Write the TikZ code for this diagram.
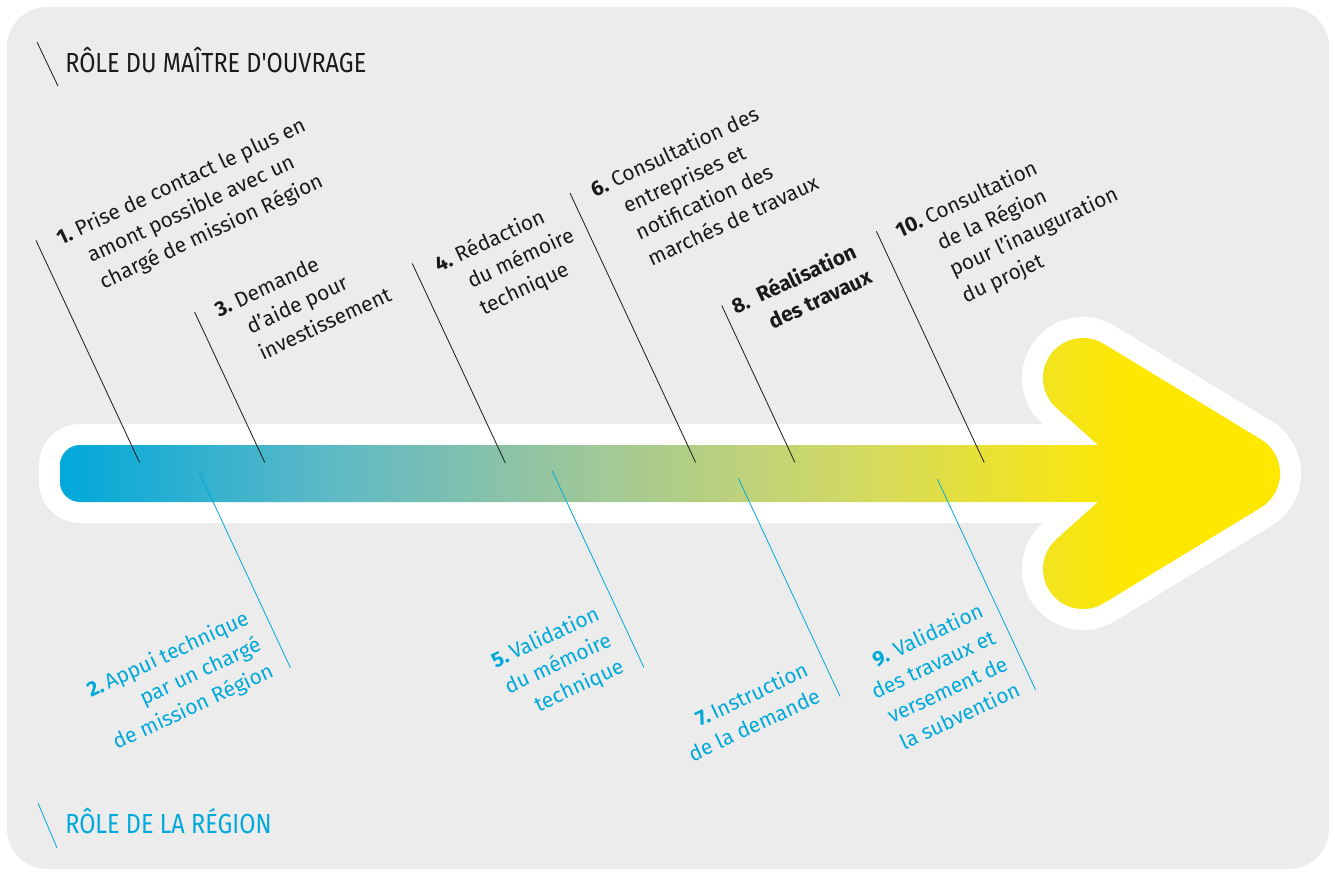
\documentclass[tikz,border=0pt]{standalone}
\usepackage{fontspec}
\setmainfont{Fira Sans}
\newfontfamily\hdrfont[FakeStretch=0.85]{Fira Sans}
\definecolor{bggrey}{HTML}{ECECEC}
\definecolor{regblue}{HTML}{00A9DA}
\definecolor{txtblack}{HTML}{1A1A1A}
\definecolor{gA}{HTML}{00A8DA}
\definecolor{gB}{HTML}{5DB9C6}
\definecolor{gC}{HTML}{A0C898}
\definecolor{gD}{HTML}{D4DA62}
\definecolor{gE}{HTML}{FFE800}
\newcommand\arrowshape{(1098,445) -- (1056.3,407.8) arc[start angle=131.8, end angle=301.3, radius=40] -- (1260.8,439.3) arc[start angle=-58.7, end angle=58.7, radius=40] -- (1103.8,603.2) arc[start angle=58.7, end angle=228.2, radius=40] -- (1098,502) -- (80,502) arc[start angle=90, end angle=180, radius=20] -- (60,465) arc[start angle=180, end angle=270, radius=20] -- cycle}
\begin{document}
\begin{tikzpicture}[x=0.75pt,y=-0.75pt,
  bodyfont/.style={inner sep=0pt, font=\fontsize{15.75}{21.75}\selectfont},
  steptext/.style={bodyfont, text=txtblack, anchor=base west},
  regtext/.style={bodyfont, text=regblue, anchor=base east},
  mline/.style={draw=txtblack, line width=0.6pt},
  rline/.style={draw=regblue, line width=0.6pt},
  hdr/.style={inner sep=0pt, anchor=base west, font=\hdrfont\fontsize{20.7}{24}\selectfont}]

\useasboundingbox (0,0) rectangle (1335,872);
\fill[white] (0,0) rectangle (1335,872);
\fill[bggrey, rounded corners=30pt] (7,7) rectangle (1329,869);

% arrow: white outline then gradient
\draw[white, fill=white, line width=31.5pt, line join=round] \arrowshape;
\begin{scope}
  \clip \arrowshape;
  \shade[left color=gA, right color=gB] (60,300) rectangle (328,640);
  \shade[left color=gB, right color=gC] (327,300) rectangle (596,640);
  \shade[left color=gC, right color=gD] (595,300) rectangle (863,640);
  \shade[left color=gD, right color=gE] (862,300) rectangle (1131,640);
  \fill[gE] (1130,300) rectangle (1310,640);
\end{scope}

% headers
\coordinate (s1a) at (37,42);  \coordinate (s1b) at (58,86);
\draw[mline] (s1a) -- (s1b);
\node[hdr, text=txtblack] (h1) at (65,72) {RÔLE DU MAÎTRE D'OUVRAGE};
\coordinate (s2a) at (38,803); \coordinate (s2b) at (57,848);
\draw[rline] (s2a) -- (s2b);
\node[hdr, text=regblue] (h2) at (65,833) {RÔLE DE LA RÉGION};

% steps (rotated frame, pixel units)
\begin{scope}[rotate=25, transform shape]
  % 1
  \node[steptext] (t1) at (-28.5,248) {\begin{tabular}[t]{@{}l@{}}\llap{\textbf{1.}\ }Prise de contact le plus en\\amont possible avec un\\chargé de mission Région\end{tabular}};
  \coordinate (l1a) at (-69,233); \coordinate (l1b) at (-69,478);
  \draw[mline] (l1a) -- (l1b);
  % 3
  \node[steptext] (t3) at (85.7,380) {\begin{tabular}[t]{@{}l@{}}\llap{\textbf{3.}\ }Demande\\d'aide pour\\investissement\end{tabular}};
  \coordinate (l3a) at (44.5,365); \coordinate (l3b) at (44.5,531);
  \draw[mline] (l3a) -- (l3b);
  % 4
  \node[steptext] (t4) at (305,432) {\begin{tabular}[t]{@{}l@{}}\llap{\textbf{4.}\ }Rédaction\\du mémoire\\technique\end{tabular}};
  \coordinate (l4a) at (262.3,413); \coordinate (l4b) at (262.3,633);
  \draw[mline] (l4a) -- (l4b);
  % 6
  \node[steptext] (t6) at (478,430) {\begin{tabular}[t]{@{}l@{}}\llap{\textbf{6.}\ }Consultation des\\entreprises et\\notification des\\marchés de travaux\end{tabular}};
  \coordinate (l6a) at (435,416); \coordinate (l6b) at (435,713);
  \draw[mline] (l6a) -- (l6b);
  % 8
  \node[steptext] (t8) at (561,596) {\bfseries\begin{tabular}[t]{@{}l@{}}\llap{8.\ \ }Réalisation\\des travaux\end{tabular}};
  \coordinate (l8a) at (525,582); \coordinate (l8b) at (525,755);
  \draw[mline] (l8a) -- (l8b);
  % 10
  \node[steptext] (t10) at (747,596) {\begin{tabular}[t]{@{}l@{}}\llap{\textbf{10.}\ }Consultation\\de la Région\\pour l'inauguration\\du projet\end{tabular}};
  \coordinate (l10a) at (696.5,580); \coordinate (l10b) at (696.5,835);
  \draw[mline] (l10a) -- (l10b);

  % region steps
  \node[regtext] (r2) at (-36.5,729) {\begin{tabular}[b]{@{}r@{}}\textbf{2.}\,Appui technique\\par un chargé\\de mission Région\end{tabular}};
  \coordinate (m2a) at (-19,512); \coordinate (m2b) at (-19,728);
  \draw[rline] (m2a) -- (m2b);
  \node[regtext] (r5) at (283,873) {\begin{tabular}[b]{@{}r@{}}\textbf{5.}\,Validation\\du mémoire\\technique\end{tabular}};
  \coordinate (m5a) at (301.5,660); \coordinate (m5b) at (301.5,877);
  \draw[rline] (m5a) -- (m5b);
  \node[regtext] (r7) at (448.5,983.4) {\begin{tabular}[b]{@{}r@{}}\textbf{7.}\,Instruction\\de la demande\end{tabular}};
  \coordinate (m7a) at (467,745.5); \coordinate (m7b) at (467,986.3);
  \draw[rline] (m7a) -- (m7b);
  \node[regtext] (r9) at (632.2,1062) {\begin{tabular}[b]{@{}r@{}}\textbf{9.} Validation\\des travaux et\\versement de\\la subvention\end{tabular}};
  \coordinate (m9a) at (647,830.4); \coordinate (m9b) at (647,1063);
  \draw[rline] (m9a) -- (m9b);
\end{scope}
\end{tikzpicture}
\end{document}
